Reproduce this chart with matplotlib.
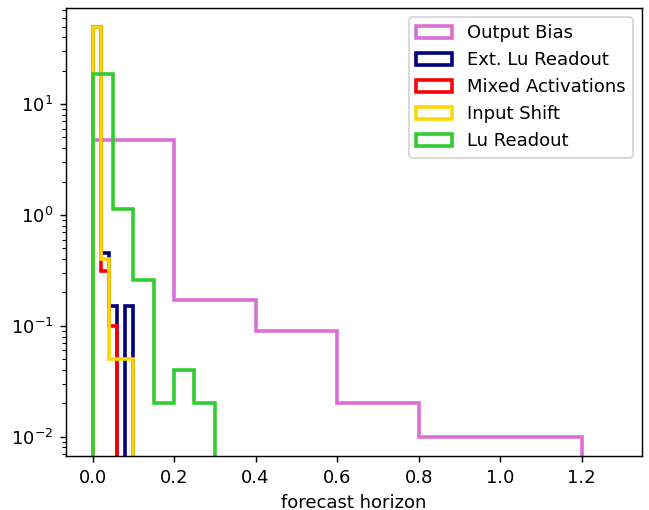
import numpy as np
import matplotlib
matplotlib.use("Agg")
import matplotlib.pyplot as plt

# bin edges and density values
labels = ["Output Bias", "Ext. Lu Readout", "Mixed Activations", "Input Shift", "Lu Readout"]
colors = ["orchid", "navy", "red", "gold", "limegreen"]

edgesOutBias = [0.0, 0.2, 0.4, 0.6, 0.8, 1.0, 1.2]
densOutBias = [4.7, 0.17, 0.09, 0.02, 0.01, 0.01]

edgesExtLu = [0.0, 0.02, 0.04, 0.06, 0.08, 0.1]
densExtLu = [49.25, 0.45, 0.15, 0.0, 0.15]

edgesMixed = [0.0, 0.02, 0.04, 0.06, 0.08, 0.1]
densMixed = [49.6, 0.31, 0.1, 0.0, 0.0]

edgesShift = [0.0, 0.02, 0.04, 0.06, 0.08, 0.1]
densShift = [49.45, 0.4, 0.05, 0.05, 0.05]

edgesLu = [0.0, 0.05, 0.1, 0.15, 0.2, 0.25, 0.3]
densLu = [18.5, 1.14, 0.26, 0.02, 0.04, 0.02]

allEdges = [edgesOutBias, edgesExtLu, edgesMixed, edgesShift, edgesLu]
allDens = [densOutBias, densExtLu, densMixed, densShift, densLu]

dpi = 130
fig = plt.figure(figsize=(649 / dpi, 510 / dpi), dpi=dpi)
ax = fig.add_axes([0.1017, 0.1059, 0.8871, 0.8784])

for edges, dens, col, lab in zip(allEdges, allDens, colors, labels):
    edges = np.array(edges)
    ax.hist(edges[:-1], bins=edges, weights=dens, histtype='step',
            color=col, linewidth=2, label=lab)

ax.set_yscale('log')
ax.set_xlim(-0.065, 1.347)
ax.set_ylim(0.0067, 73.5)
ax.set_xlabel("forecast horizon")
ax.legend(loc='upper right')

fig.savefig("out.png", dpi=dpi)
